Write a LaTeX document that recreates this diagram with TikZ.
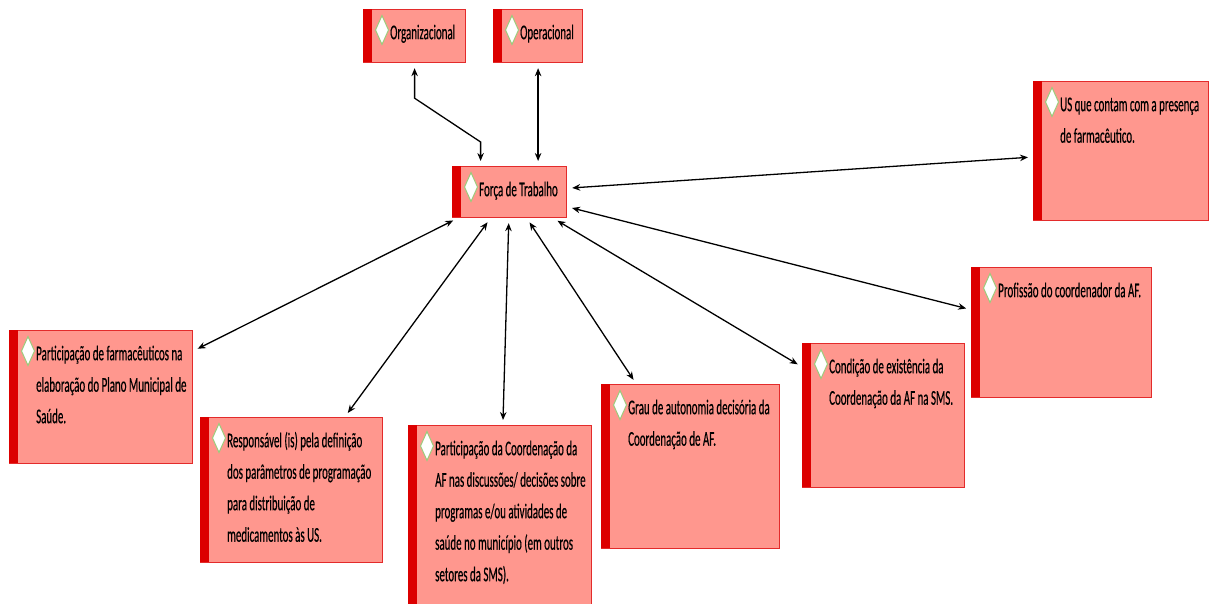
\documentclass[tikz,border=0pt]{standalone}
\usepackage{fontspec}
\setmainfont{Carlito}[FakeStretch=0.52, FakeBold=0.4]
\usepackage{xcolor}
\definecolor{BOXfill}{HTML}{FF978E}
\definecolor{BOXline}{HTML}{E32B2B}
\definecolor{BARcolor}{HTML}{DC0000}
\definecolor{GEMline}{HTML}{9CCB7C}
\usepackage{tikz}
\usetikzlibrary{math, arrows.meta}

\begin{document}
\begin{tikzpicture}[x=1pt, y=-1pt]
    \tikzset{%
        frame/.style={rectangle, draw=BOXline, line width=1.2pt, fill=BOXfill, inner sep=0pt},
        boxtext/.style={inner sep=0pt, align=left, font=\fontsize{21}{31.5}\selectfont},
        link/.style={<->, >={Stealth[length=8pt, width=6.5pt]}, line width=1.3pt, shorten <=5pt, shorten >=5pt},
        pics/infobox/.style n args={3}{code={%
                        \tikzmath{%
                            \barw=9;
                            \gx=19;
                            \gy=21;
                            \tx=27;
                            \ty=30-22.05;
                        };
                        % box
                        \node [frame, anchor=north west, minimum width=#1pt, minimum height=#2pt] (-f) at (0, 0) {};
                        \fill [BARcolor] (0, 0) rectangle (\barw, #2);
                        % diamond
                        \draw [GEMline, fill=white, line width=1pt] (\gx, \gy-14.5) -- (\gx+6.5, \gy) -- (\gx, \gy+14.5) -- (\gx-6.5, \gy) -- cycle;
                        \node [boxtext, anchor=north west] (-t) at (\tx, \ty) {\strut #3};
                    }
            }
    }

    \useasboundingbox (0, 0) rectangle (1209, 603);

    \pic (org) at (363, 9) {infobox={102}{53}{Organizacional}};
    \pic (oper) at (493, 9) {infobox={89}{53}{Operacional}};
    \pic (forca) at (452, 166) {infobox={114}{51}{Força de Trabalho}};
    \pic (us) at (1033, 81) {infobox={175}{139}{US que contam com a presença\\de farmacêutico.}};
    \pic (prof) at (971, 267) {infobox={180}{130}{Profissão do coordenador da AF.}};
    \pic (cond) at (802, 343) {infobox={162}{144}{Condição de existência da\\Coordenação da AF na SMS.}};
    \pic (grau) at (601, 384) {infobox={178}{164}{Grau de autonomia decisória da\\Coordenação de AF.}};
    \pic (coord) at (408, 425) {infobox={183}{190}{Participação da Coordenação da\\AF nas discussões/ decisões sobre\\programas e/ou atividades de\\saúde no município (em outros\\setores da SMS).}};
    \pic (resp) at (200, 417) {infobox={182}{145}{Responsável (is) pela definição\\dos parâmetros de programação\\para distribuição de\\medicamentos às US.}};
    \pic (farm) at (9, 330) {infobox={183}{133}{Participação de farmacêuticos na\\elaboração do Plano Municipal de\\Saúde.}};

    % links
    \draw [link] (org-f.south) -- ++(0, 35) -- ([shift={(-29pt, 24pt)}]forca-f.north) -- ([xshift=-29pt]forca-f.north);
    \draw [link] (oper-f.south) -- (oper-f.south |- forca-f.north);
    \draw [link] (forca-f) -- (us-f);
    \draw [link] (forca-f) -- (prof-f);
    \draw [link] (forca-f) -- (cond-f);
    \draw [link] (forca-f) -- (grau-f);
    \draw [link] (forca-f) -- (coord-f);
    \draw [link] (forca-f) -- (resp-f);
    \draw [link] (forca-f) -- (farm-f);
\end{tikzpicture}
\end{document}
